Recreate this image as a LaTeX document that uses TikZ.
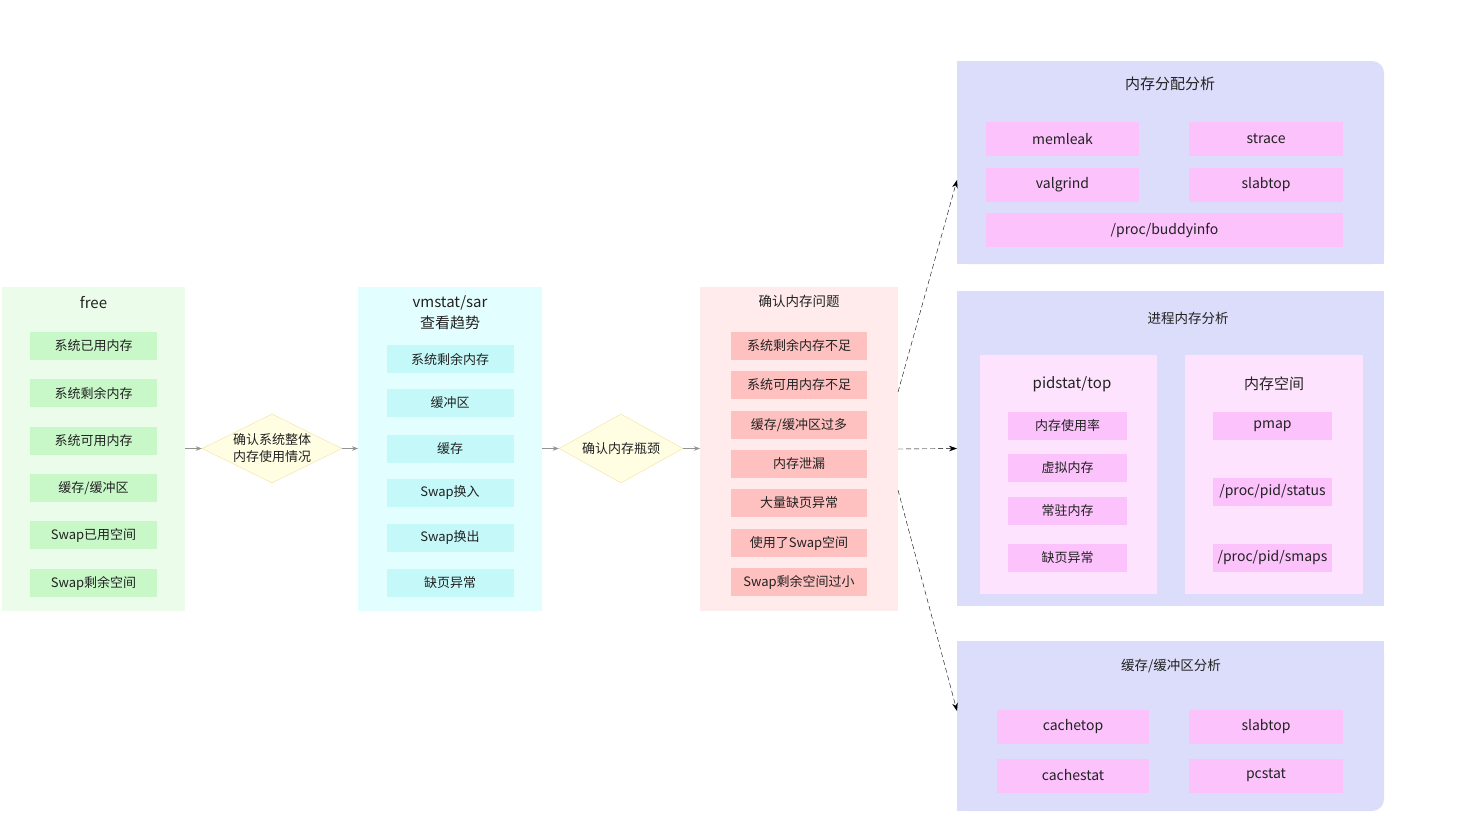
\documentclass[tikz,border=0pt]{standalone}
\usepackage{fontspec}
\setmainfont{Noto Sans CJK SC}
\usetikzlibrary{shapes.geometric,arrows.meta}

\definecolor{freebg}{HTML}{EBFCEB}
\definecolor{freeitem}{HTML}{C8F7C8}
\definecolor{trendbg}{HTML}{E3FEFF}
\definecolor{trenditem}{HTML}{C4F8F9}
\definecolor{issuebg}{HTML}{FFEBEB}
\definecolor{issueitem}{HTML}{FFC0C0}
\definecolor{toolbg}{HTML}{DCDCFB}
\definecolor{toolitem}{HTML}{FCC2FC}
\definecolor{subbg}{HTML}{FDE3FD}
\definecolor{checkbg}{HTML}{FFFDE2}
\definecolor{checkline}{HTML}{F2E2A2}
\definecolor{txt}{HTML}{222222}

\tikzset{
  panel/.style={inner sep=0pt, outer sep=0pt},
  item/.style={inner sep=0pt, outer sep=0pt, minimum height=28pt, text=txt,
    font=\fontsize{13}{15}\selectfont},
  tool/.style={item, fill=toolitem, minimum height=34pt, font=\fontsize{14}{16}\selectfont},
  title/.style={text=txt, font=\fontsize{15}{21}\selectfont, align=center},
  subtitle/.style={text=txt, font=\fontsize{13.5}{16}\selectfont},
  decision/.style={diamond, draw=checkline, fill=checkbg, inner sep=0pt,
    minimum height=69pt},
  flow/.style={draw=gray!85, -{Stealth[length=6pt,width=4.5pt]}},
  jump/.style={dash pattern=on 5pt off 3pt, -{Stealth[length=8pt,width=5.5pt]}},
}

\begin{document}
\begin{tikzpicture}[x=1pt,y=-1pt]
  \useasboundingbox (0,0) rectangle (1469,836);

  % Draw the free panel
  \node[panel, fill=freebg, minimum width=183pt, minimum height=324pt] (free) at (93.5,449) {};
  \node[title] (free-t) at (93.5,303) {free};
  \foreach \y/\t [count=\i] in {346/系统已用内存, 393/系统剩余内存, 441/系统可用内存,
      488/{缓存/缓冲区}, 535/Swap已用空间, 583/Swap剩余空间} {
    \node[item, fill=freeitem, minimum width=127pt] (free-\i) at (93.5,\y) {\t};
  }

  % Draw the vmstat/sar panel
  \node[panel, fill=trendbg, minimum width=184pt, minimum height=324pt] (trend) at (450,449) {};
  \node[title] (trend-t) at (450,313) {vmstat/sar\\查看趋势};
  \foreach \y/\t [count=\i] in {359/系统剩余内存, 403/缓冲区, 449/缓存,
      493/Swap换入, 538/Swap换出, 583/缺页异常} {
    \node[item, fill=trenditem, minimum width=127pt] (trend-\i) at (450,\y) {\t};
  }

  % Draw the problem panel
  \node[panel, fill=issuebg, minimum width=198pt, minimum height=324pt] (issue) at (799,449) {};
  \node[subtitle] (issue-t) at (799,301) {确认内存问题};
  \foreach \y/\t [count=\i] in {346/系统剩余内存不足, 385/系统可用内存不足, 425/{缓存/缓冲区过多},
      464/内存泄漏, 503/大量缺页异常, 543/使用了Swap空间, 582/Swap剩余空间过小} {
    \node[item, fill=issueitem, minimum width=136pt] (issue-\i) at (799,\y) {\t};
  }

  % Draw the decisions
  \node[decision, minimum width=140pt,
    label={[text=txt, font=\fontsize{13}{17}\selectfont, align=center]center:确认系统整体\\内存使用情况}]
    (check) at (272,448.5) {};
  \node[decision, minimum width=124pt,
    label={[text=txt, font=\fontsize{13}{17}\selectfont]center:确认内存瓶颈}]
    (neck) at (621,448.5) {};

  % Draw the flow arrows
  \draw[flow] (free.east |- check.west) -- (check.west);
  \draw[flow] (check.east) -- (trend.west |- check.east);
  \draw[flow] (trend.east |- neck.west) -- (neck.west);
  \draw[flow] (neck.east) -- (issue.west |- neck.east);

  % Draw the allocation panel (top right corner rounded)
  \node[panel, fill=toolbg, rounded corners=12pt, minimum width=427pt, minimum height=203pt] (alloc) at (1170.5,162.5) {};
  \fill[toolbg] (alloc.north west) rectangle ([xshift=-12pt]alloc.south east);
  \fill[toolbg] ([yshift=-12pt]alloc.north west) rectangle (alloc.south east);
  \node[title] (alloc-t) at (1170,84) {内存分配分析};
  \node[tool, minimum width=153pt] (memleak) at (1062.5,139) {memleak};
  \node[tool, minimum width=154pt] (strace) at (1266,139) {strace};
  \node[tool, minimum width=153pt] (valgrind) at (1062.5,185) {valgrind};
  \node[tool, minimum width=154pt] (slabtop1) at (1266,185) {slabtop};
  \node[tool, minimum width=357pt] (buddy) at (1164.5,230) {/proc/buddyinfo};

  % Draw the process panel
  \node[panel, fill=toolbg, minimum width=427pt, minimum height=315pt] (proc) at (1170.5,448.5) {};
  \node[subtitle] (proc-t) at (1188,318) {进程内存分析};
  \node[panel, fill=subbg, minimum width=177pt, minimum height=239pt] (pid) at (1068.5,474.5) {};
  \node[title] (pid-t) at (1072,384) {pidstat/top};
  \foreach \y/\t [count=\i] in {426/内存使用率, 468/虚拟内存, 510.5/常驻内存, 558/缺页异常} {
    \node[item, fill=toolitem, minimum width=119pt] (pid-\i) at (1067.5,\y) {\t};
  }
  \node[panel, fill=subbg, minimum width=178pt, minimum height=239pt] (space) at (1274,474.5) {};
  \node[title] (space-t) at (1274,384) {内存空间};
  \foreach \y/\t [count=\i] in {426/pmap, 492/{/proc/pid/status}, 558/{/proc/pid/smaps}} {
    \node[item, fill=toolitem, minimum width=119pt, font=\fontsize{14}{16}\selectfont] (space-\i) at (1272.5,\y) {\t};
  }

  % Draw the cache panel (bottom right corner rounded)
  \node[panel, fill=toolbg, rounded corners=12pt, minimum width=427pt, minimum height=170pt] (cache) at (1170.5,726) {};
  \fill[toolbg] (cache.north west) rectangle ([xshift=-12pt]cache.south east);
  \fill[toolbg] (cache.north west) rectangle ([yshift=12pt]cache.south east);
  \node[subtitle] (cache-t) at (1171,666) {缓存/缓冲区分析};
  \node[tool, minimum width=152pt] (cachetop) at (1073,727) {cachetop};
  \node[tool, minimum width=154pt] (slabtop2) at (1266,727) {slabtop};
  \node[tool, minimum width=152pt] (cachestat) at (1073,775.5) {cachestat};
  \node[tool, minimum width=154pt] (pcstat) at (1266,775.5) {pcstat};

  % Draw the dashed arrows
  \draw[jump] ([yshift=57pt]issue.east) -- ([yshift=-17.5pt]alloc.west);
  \draw[jump] (issue.east) -- (proc.west);
  \draw[jump] ([yshift=-41pt]issue.east) -- ([yshift=15pt]cache.west);
\end{tikzpicture}
\end{document}
